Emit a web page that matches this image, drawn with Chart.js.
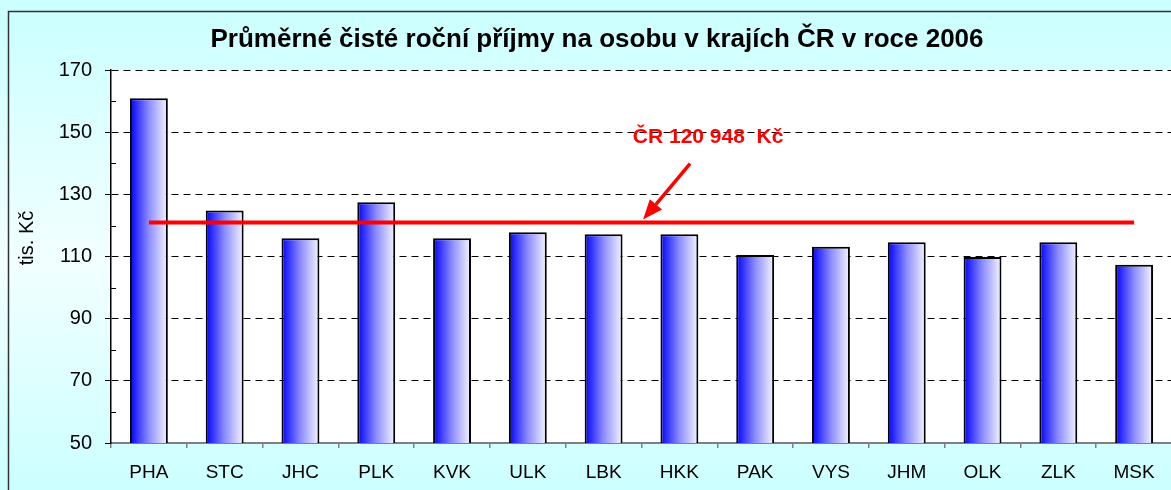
<!DOCTYPE html>
<html>
<head>
<meta charset="utf-8">
<script src="https://cdn.jsdelivr.net/npm/chart.js@4.4.0/dist/chart.umd.min.js"></script>
<style>
  html, body { margin: 0; padding: 0; overflow: hidden; background: #ccffff; }
  #wrap { width: 1194px; height: 490px; }
</style>
</head>
<body>
<div id="wrap"><canvas id="incomeChart"></canvas></div>
<script>
/* Data */
const regions = ["PHA", "STC", "JHC", "PLK", "KVK", "ULK", "LBK", "HKK", "PAK", "VYS", "JHM", "OLK", "ZLK", "MSK"];
const income = [161.0, 124.8, 115.9, 127.5, 115.9, 117.8, 117.2, 117.2, 110.5, 113.2, 114.6, 109.9, 114.6, 107.4];
const czAverage = 120.948;
const averageLine = regions.map(() => czAverage);
const yTicks = [50, 70, 90, 110, 130, 150, 170];

const FONT = "'Liberation Sans', Arial, sans-serif";

/* Background, plot area, axis title, annotation */
const decor = {
    id: 'decor',
    beforeDraw(chart) {
        const c = chart.ctx, a = chart.chartArea;
        c.save();
        const bg = c.createLinearGradient(0, 11, 0, 490);
        bg.addColorStop(0, '#ccffff');
        bg.addColorStop(0.52, '#f2ffff');
        bg.addColorStop(1, '#ccffff');
        c.fillStyle = bg;
        c.fillRect(0, 0, chart.width, chart.height);
        c.strokeStyle = '#333';
        c.lineWidth = 1.5;
        c.strokeRect(8.5, 11.5, chart.width + 20, chart.height + 20);
        c.fillStyle = '#ffffff';
        c.fillRect(a.left, a.top, a.right - a.left, a.bottom - a.top);
        // y axis title
        c.translate(27, 238);
        c.rotate(-Math.PI / 2);
        c.fillStyle = '#000';
        c.font = '20px ' + FONT;
        c.textAlign = 'center';
        c.textBaseline = 'middle';
        c.fillText('tis. Kč', 0, 0);
        c.restore();
    },
    afterDraw(chart) {
        const c = chart.ctx, a = chart.chartArea;
        const y = chart.scales.y;
        c.save();
        // minor ticks inside the plot
        c.strokeStyle = '#000';
        c.lineWidth = 1;
        for (let v = 60; v < 170; v += 20) {
            const py = Math.round(y.getPixelForValue(v)) + 0.5;
            c.beginPath();
            c.moveTo(a.left, py);
            c.lineTo(a.left + 5, py);
            c.stroke();
        }
        // annotation
        const tipX = a.left + (a.right - a.left) * 0.5015;
        const tipY = y.getPixelForValue(czAverage) - 3;
        const tailX = tipX + 47, tailY = tipY - 56;
        c.strokeStyle = '#ff0000';
        c.fillStyle = '#ff0000';
        c.lineWidth = 3.5;
        const ang = Math.atan2(tipY - tailY, tipX - tailX);
        const headLen = 20, headW = 8;
        const bx = tipX - headLen * Math.cos(ang), by = tipY - headLen * Math.sin(ang);
        c.beginPath();
        c.moveTo(tailX, tailY);
        c.lineTo(bx, by);
        c.stroke();
        c.beginPath();
        c.moveTo(tipX, tipY);
        c.lineTo(bx + headW * Math.sin(ang), by - headW * Math.cos(ang));
        c.lineTo(bx - headW * Math.sin(ang), by + headW * Math.cos(ang));
        c.closePath();
        c.fill();
        c.font = 'bold 21px ' + FONT;
        c.textAlign = 'center';
        c.textBaseline = 'middle';
        c.fillText('ČR 120 948  Kč', tipX + 65, tipY - 82);
        c.restore();
    }
};

/* Create chart */
const my_chart = new Chart('incomeChart', {
    type: 'bar',
    data: {
        labels: regions,
        datasets: [
            {
                type: 'line',
                label: 'ČR',
                data: averageLine,
                borderColor: '#ff0000',
                borderWidth: 4,
                pointRadius: 0,
                fill: false,
                order: 0
            },
            {
                label: 'Příjmy',
                data: income,
                order: 1,
                backgroundColor: function (ctx) {
                    const xs = ctx.chart.scales.x;
                    if (!xs || ctx.dataIndex === undefined) return '#0000ff';
                    const cx = xs.getPixelForValue(ctx.dataIndex);
                    const half = xs.width / regions.length * 0.25;
                    if (!isFinite(cx) || !isFinite(half) || half <= 0) return '#0000ff';
                    const g = ctx.chart.ctx.createLinearGradient(cx - half, 0, cx + half, 0);
                    g.addColorStop(0, '#0000ff');
                    g.addColorStop(0.5, '#8c8cff');
                    g.addColorStop(1, '#f6f6ff');
                    return g;
                },
                borderColor: '#000000',
                borderWidth: 2,
                borderSkipped: false,
                barPercentage: 0.5,
                categoryPercentage: 1
            }
        ]
    },
    plugins: [decor],
    options: {
        responsive: true,
        maintainAspectRatio: false,
        animation: false,
        layout: { padding: { left: 22, right: 22, top: 0, bottom: 6 } },
        scales: {
            x: {
                afterFit(scale) { scale.height = 41; },
                grid: {
                    offset: true,
                    drawOnChartArea: false,
                    tickLength: 5,
                    color: '#808080',
                    lineWidth: 1.5
                },
                border: { color: '#808080', width: 2 },
                ticks: {
                    color: '#000',
                    padding: 13,
                    maxRotation: 0,
                    font: { family: FONT, size: 19 }
                }
            },
            y: {
                min: 50,
                max: 170,
                afterFit(scale) { scale.width = 89; },
                afterBuildTicks(scale) { scale.ticks = yTicks.map(v => ({ value: v })); },
                grid: {
                    color: '#000',
                    lineWidth: 1,
                    tickLength: 6,
                    tickColor: '#000',
                    tickBorderDash: []
                },
                border: { color: '#000', width: 1.5, dash: [7, 5] },
                ticks: {
                    color: '#000',
                    padding: 13,
                    font: { family: FONT, size: 20 }
                }
            }
        },
        plugins: {
            legend: { display: false },
            tooltip: { enabled: false },
            title: {
                display: true,
                text: 'Průměrné čisté roční příjmy na osobu v krajích ČR v roce 2006',
                color: '#000',
                font: { family: FONT, size: 26, weight: 'bold' },
                padding: { top: 24, bottom: 15 }
            }
        }
    }
});
</script>
</body>
</html>
